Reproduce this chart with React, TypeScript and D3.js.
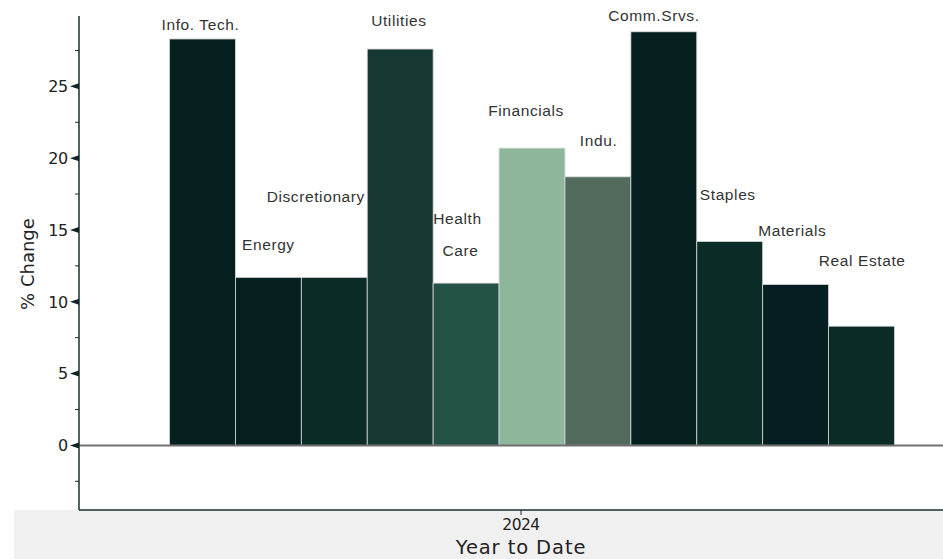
import React from "react";
import * as d3 from "d3";

const categories = ["Info. Tech.", "Energy", "Discretionary", "Utilities", "Health Care", "Financials", "Indu.", "Comm.Srvs.", "Staples", "Materials", "Real Estate"];
const values = [28.3, 11.7, 11.7, 27.6, 11.3, 20.7, 18.7, 28.8, 14.2, 11.2, 8.3];
const colors = ["#061f1f", "#061f1f", "#0b2b26", "#173832", "#235347", "#8eb69b", "#526b5c", "#061f1f", "#0b2b26", "#051f20", "#0b2b26"];
// label lines and their level (in % change units) and horizontal shift (fraction of band)
const labelLines = [["Info. Tech."], ["Energy"], ["Discretionary"], ["Utilities"], ["Health", "Care"], ["Financials"], ["Indu."], ["Comm.Srvs."], ["Staples"], ["Materials"], ["Real Estate"]];
const labelLevels = [28.9, 13.6, 16.95, 29.2, 15.4, 22.95, 20.85, 29.55, 17.1, 14.6, 12.5];
const labelShifts = [-0.03, 0, -0.28, -0.02, -0.13, -0.09, 0.01, -0.15, -0.03, -0.05, 0.01];
const yTicks = [0, 5, 10, 15, 20, 25];
const yMinorTicks = [-2.5, 2.5, 7.5, 12.5, 17.5, 22.5, 27.5];
const xTickLabel = "2024";
const xTitle = "Year to Date";
const yTitle = "% Change";

export default function App() {
  const W = 943, H = 559;
  const axisX = 79, axisBottom = 510, axisTop = 16;
  const y = d3.scaleLinear().domain([-4.5, 29.9]).range([axisBottom, axisTop]);
  const x = d3.scaleBand().domain(categories).range([169.5, 894.5]).padding(0);
  const bw = x.bandwidth();
  const lineH = 32;
  return (
    <svg width={W} height={H} style={{ position: "absolute", left: 0, top: 0, background: "#fff" }}>
      <rect x={14} y={axisBottom} width={W - 14} height={H - axisBottom} fill="#f0f0f0" />
      {categories.map((c, i) => (
        <rect key={c} x={x(c)} y={y(values[i])} width={bw} height={y(0) - y(values[i])} fill={colors[i]} stroke="#d8d8d8" strokeWidth={0.8} />
      ))}
      <line x1={axisX} x2={W} y1={y(0)} y2={y(0)} stroke="#707070" strokeWidth={2} />
      {categories.map((c, i) => (
        <text key={"l" + c} x={(x(c) as number) + bw / 2 + labelShifts[i] * bw} y={y(labelLevels[i])} textAnchor="middle" fontFamily="'Liberation Sans', Arial, sans-serif" fontSize={15.5} letterSpacing={0.6} fill="#333">
          {labelLines[i].map((t, j) => (
            <tspan key={j} x={(x(c) as number) + bw / 2 + labelShifts[i] * bw + (j > 0 ? 3 : 0)} dy={j === 0 ? 0 : lineH}>{t}</tspan>
          ))}
        </text>
      ))}
      <line x1={axisX} x2={axisX} y1={axisTop} y2={axisBottom} stroke="#1a2e2e" strokeWidth={1.5} />
      <line x1={axisX} x2={W} y1={axisBottom} y2={axisBottom} stroke="#1a2e2e" strokeWidth={1.5} />
      {yTicks.map((t) => (
        <g key={t}>
          <path d={`M${axisX},${y(t) - 3} L${axisX - 9},${y(t)} L${axisX},${y(t) + 3} Z`} fill="#0d2424" />
          <text x={axisX - 11} y={y(t)} dy="0.36em" textAnchor="end" fontFamily="'DejaVu Sans', Verdana, sans-serif" fontSize={16} fill="#222" letterSpacing={-0.3}>{t}</text>
        </g>
      ))}
      {yMinorTicks.map((t) => (
        <line key={t} x1={axisX - 4} x2={axisX} y1={y(t)} y2={y(t)} stroke="#1a2e2e" strokeWidth={1} />
      ))}
      <line x1={521} x2={521} y1={axisBottom} y2={axisBottom + 5} stroke="#1a2e2e" strokeWidth={1} />
      <text x={521} y={530} textAnchor="middle" fontFamily="'DejaVu Sans', Verdana, sans-serif" fontSize={15.5} fill="#222" letterSpacing={-0.5}>{xTickLabel}</text>
      <text x={521} y={554} textAnchor="middle" fontFamily="'DejaVu Sans', Verdana, sans-serif" fontSize={19.5} letterSpacing={0.9} fill="#222">{xTitle}</text>
      <text transform={`translate(34,264) rotate(-90)`} textAnchor="middle" fontFamily="'DejaVu Sans', Verdana, sans-serif" fontSize={18} fill="#222">{yTitle}</text>
    </svg>
  );
}
